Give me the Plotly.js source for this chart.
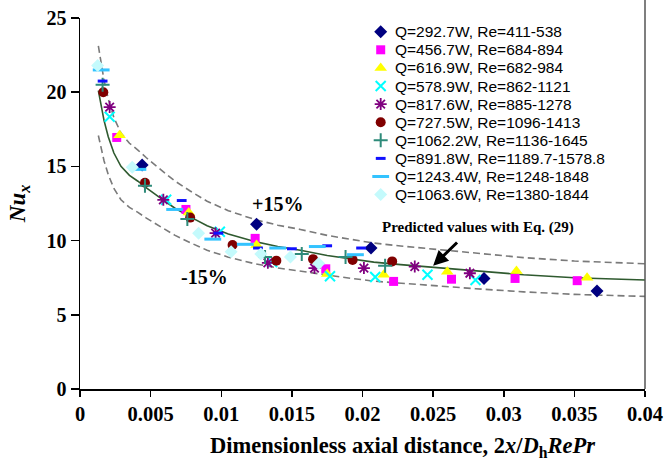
<!DOCTYPE html>
<html>
<head>
<meta charset="utf-8">
<script src="https://cdn.plot.ly/plotly-3.0.1.min.js"></script>
<style>
  html, body { margin: 0; padding: 0; background: #ffffff; }
  #chart { width: 667px; height: 465px; }
</style>
</head>
<body>
<div id="chart"></div>
<script>
// ---- Data ----
const seriesNames = [
  "Q=292.7W, Re=411-538",
  "Q=456.7W, Re=684-894",
  "Q=616.9W, Re=682-984",
  "Q=578.9W, Re=862-1121",
  "Q=817.6W, Re=885-1278",
  "Q=727.5W, Re=1096-1413",
  "Q=1062.2W, Re=1136-1645",
  "Q=891.8W, Re=1189.7-1578.8",
  "Q=1243.4W, Re=1248-1848",
  "Q=1063.6W, Re=1380-1844"
];

const x1 = [0.0044, 0.0125, 0.0206, 0.0286, 0.0366];
const y1 = [15.1, 11.1, 9.5, 7.45, 6.6];

const x2 = [0.0026, 0.0075, 0.0124, 0.0174, 0.0222, 0.0263, 0.0308, 0.0352];
const y2 = [16.95, 12.1, 10.15, 8.1, 7.25, 7.4, 7.45, 7.3];

const x3 = [0.0028, 0.0077, 0.0125, 0.0175, 0.0215, 0.026, 0.0309, 0.0359];
const y3 = [17.1, 11.9, 9.7, 7.75, 7.7, 7.9, 7.95, 7.5];

const x4 = [0.0021, 0.0061, 0.0099, 0.0136, 0.0177, 0.0209, 0.0246, 0.028];
const y4 = [18.35, 12.75, 10.6, 8.55, 7.6, 7.55, 7.7, 7.35];

const x5 = [0.0021, 0.0059, 0.0096, 0.0133, 0.0166, 0.0201, 0.0237, 0.0276];
const y5 = [19.0, 12.75, 10.5, 8.5, 8.15, 8.15, 8.25, 7.8];

const x6 = [0.00165, 0.0046, 0.0078, 0.0108, 0.0139, 0.0165, 0.0193, 0.0221];
const y6 = [20.0, 13.9, 11.55, 9.7, 8.65, 8.75, 8.7, 8.6];

const x7 = [0.0016, 0.0046, 0.0076, 0.0131, 0.0157, 0.0188, 0.0216];
const y7 = [20.5, 13.7, 11.45, 8.9, 9.1, 8.9, 8.3];

const x8 = [0.0016, 0.0072, 0.0098, 0.0126, 0.015, 0.0175, 0.0199];
const y8 = [20.75, 12.7, 10.5, 9.5, 9.45, 9.65, 9.5];

const x9 = [0.0015, 0.0041, 0.0067, 0.0094, 0.0117, 0.014, 0.0168, 0.0195];
const y9 = [21.5, 14.8, 12.1, 10.1, 9.75, 9.5, 9.6, 9.05];

const x10 = [0.00125, 0.0037, 0.0084, 0.0107, 0.0128, 0.0149, 0.0169];
const y10 = [21.8, 14.95, 10.5, 9.25, 9.1, 8.9, 8.45];

// Predicted curve (Eq. 29)
const curveX = [0.0013, 0.0015, 0.0017, 0.002, 0.0024, 0.0029, 0.0035, 0.0041, 0.0047, 0.0058, 0.0067, 0.0078, 0.009, 0.0105, 0.0123, 0.014, 0.0156, 0.0175, 0.019, 0.0208, 0.0227, 0.025, 0.028, 0.0314, 0.035, 0.04];
const curveY = [20.1, 19.0, 18.1, 17.0, 15.9, 15.0, 14.4, 14.0, 13.55, 12.8, 12.2, 11.6, 11.0, 10.45, 9.95, 9.6, 9.35, 9.0, 8.8, 8.55, 8.38, 8.2, 7.95, 7.7, 7.5, 7.34];
const bandFactor = 0.15; // +/-15 %

const xTicks = [0, 0.005, 0.01, 0.015, 0.02, 0.025, 0.03, 0.035, 0.04];
const xTickText = ["0", "0.005", "0.01", "0.015", "0.02", "0.025", "0.03", "0.035", "0.04"];
const yTicks = [0, 5, 10, 15, 20, 25];

// ---- Styles ----
const markerStyles = [
  {symbol: 'diamond', size: 10, color: '#000080', lc: '#000080', lw: 0},
  {symbol: 'square', size: 9, color: '#ff00ff', lc: '#ff00ff', lw: 0},
  {symbol: 'triangle-up', size: 11, color: '#ffff00', lc: '#ffff00', lw: 0},
  {symbol: 'x-thin-open', size: 10, color: '#00ffff', lc: '#00ffff', lw: 2},
  {symbol: 'asterisk-open', size: 10, color: '#800080', lc: '#800080', lw: 1.8},
  {symbol: 'circle', size: 10, color: '#800000', lc: '#800000', lw: 0},
  {symbol: 'cross-thin-open', size: 10, color: '#2e8b7a', lc: '#2e8b7a', lw: 2},
  {symbol: 'line-ew-open', size: 7, color: '#1010ff', lc: '#1010ff', lw: 3},
  {symbol: 'line-ew-open', size: 12, color: '#33c3ff', lc: '#33c3ff', lw: 3},
  {symbol: 'diamond', size: 10, color: '#c4fafc', lc: '#c4fafc', lw: 0}
];

const serif = '"Liberation Serif", "Times New Roman", serif';
const sans = '"Liberation Sans", Arial, sans-serif';

// ---- Traces ----
const upperY = curveY.map(v => v * (1 + bandFactor));
const lowerY = curveY.map(v => v * (1 - bandFactor));

const traces = [
  {x: curveX, y: upperY, mode: 'lines', hoverinfo: 'skip',
   line: {color: '#7a7a7a', width: 1.6, dash: '7px,4px'}},
  {x: curveX, y: lowerY, mode: 'lines', hoverinfo: 'skip',
   line: {color: '#7a7a7a', width: 1.6, dash: '7px,4px'}},
  {x: curveX, y: curveY, mode: 'lines', hoverinfo: 'skip',
   line: {color: '#2f5a2f', width: 1.6}}
];

const xs = [x1, x2, x3, x4, x5, x6, x7, x8, x9, x10];
const ys = [y1, y2, y3, y4, y5, y6, y7, y8, y9, y10];

for (let i = 0; i < xs.length; i++) {
  const s = markerStyles[i];
  traces.push({
    x: xs[i], y: ys[i], mode: 'markers', name: seriesNames[i],
    marker: {symbol: s.symbol, size: s.size, color: s.color, opacity: 1,
             line: {color: s.lc, width: s.lw}}
  });
}

// Legend drawn on an overlay axis: one row per series (row index = series index)
const legendRows = seriesNames.map((_, i) => i);
legendRows.forEach(i => {
  const s = markerStyles[i];
  traces.push({
    x: [0], y: [i], xaxis: 'x2', yaxis: 'y2',
    mode: 'markers', hoverinfo: 'skip',
    marker: {symbol: s.symbol, size: s.size, color: s.color, opacity: 1,
             line: {color: s.lc, width: s.lw}}
  });
});

const annotations = [
  {x: 0.0140, y: 12.5, xref: 'x', yref: 'y', text: '<b>+15%</b>', showarrow: false,
   font: {family: serif, size: 20, color: '#000'}},
  {x: 0.0088, y: 7.55, xref: 'x', yref: 'y', text: '<b>-15%</b>', showarrow: false,
   font: {family: serif, size: 20, color: '#000'}},
  {x: 0.0282, y: 10.85, xref: 'x', yref: 'y', text: '<b>Predicted values with Eq. (29)</b>',
   showarrow: false, font: {family: serif, size: 15, color: '#000'}},
  {x: 0.0250, y: 8.3, xref: 'x', yref: 'y', ax: 0.0268, ay: 9.97, axref: 'x', ayref: 'y',
   text: '', showarrow: true, arrowhead: 2, arrowsize: 1, arrowwidth: 3, arrowcolor: '#000'},
  {x: 0.57, y: -0.155, xref: 'paper', yref: 'paper', xanchor: 'center', yanchor: 'middle',
   text: '<b>Dimensionless axial distance, 2<i>x</i>/<i>D</i><sub>h</sub><i>RePr</i></b>',
   showarrow: false, font: {family: serif, size: 22.5, color: '#000'}}
];

legendRows.forEach(i => {
  annotations.push({
    x: 12, y: i, xref: 'x2', yref: 'y2', xanchor: 'left', yanchor: 'middle',
    text: seriesNames[i], showarrow: false,
    font: {family: sans, size: 15.5, color: '#000'}
  });
});

const layout = {
  width: 667, height: 465,
  margin: {l: 80, r: 22, t: 18, b: 76},
  paper_bgcolor: '#ffffff', plot_bgcolor: '#ffffff',
  showlegend: false,
  xaxis: {
    range: [0, 0.04], tickvals: xTicks, ticktext: xTickText,
    showgrid: false, zeroline: false, showline: true, linecolor: '#000', linewidth: 1.5,
    ticks: 'outside', ticklen: 6, tickcolor: '#000', tickwidth: 1.5,
    tickfont: {family: serif, size: 20.5, color: '#000', weight: 'bold'}
  },
  yaxis: {
    range: [0, 25], tickvals: yTicks,
    showgrid: false, zeroline: false, showline: true, linecolor: '#000', linewidth: 1.5,
    ticks: 'outside', ticklen: 8, tickcolor: '#000', tickwidth: 1.5,
    tickfont: {family: serif, size: 20, color: '#000', weight: 'bold'},
    title: {text: '<b><i>Nu</i><sub><i>x</i></sub></b>',
            font: {family: serif, size: 23, color: '#000'}, standoff: 14}
  },
  xaxis2: {domain: [0, 1], range: [-300.7, 264.3], visible: false, fixedrange: true,
           anchor: 'y2', overlaying: 'x'},
  yaxis2: {domain: [0, 1], range: [19.74, -0.757], visible: false, fixedrange: true,
           anchor: 'x2', overlaying: 'y'},
  shapes: [
    {type: 'line', xref: 'paper', yref: 'paper', x0: 1, x1: 1, y0: 0, y1: 1.05,
     line: {color: '#555', width: 1.5}}
  ],
  annotations: annotations
};

Plotly.newPlot('chart', traces, layout, {displayModeBar: false, staticPlot: true});
</script>
</body>
</html>
